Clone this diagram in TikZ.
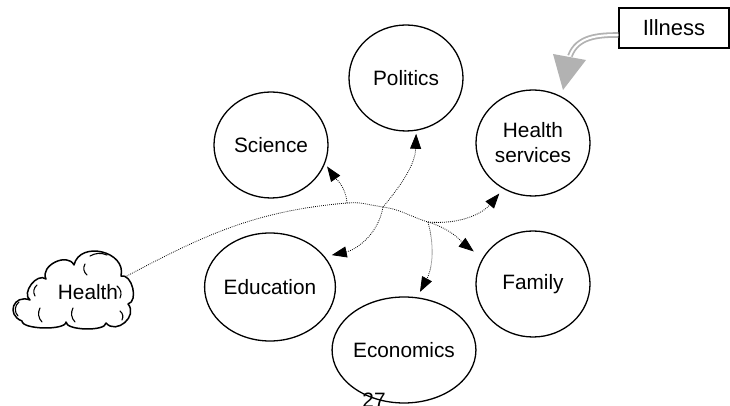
\documentclass[tikz,border=0pt]{standalone}
\usepackage{fontspec}
\setmainfont{Liberation Sans}
\usetikzlibrary{shapes.geometric,arrows.meta}
\begin{document}
\begin{tikzpicture}[x=1pt,y=1pt,
  topic/.style={draw, line width=1.3pt, ellipse, inner sep=0pt, minimum width=114pt, minimum height=106pt, font=\fontsize{20.8}{25}\selectfont, align=center},
  link/.style={line width=0.8pt, dash pattern=on 0.8pt off 1.2pt, -{Triangle[length=15pt,width=11pt]}},
  shaft/.style={draw=gray!60, line width=1.8pt, double=white, double distance=2pt},
  txt/.style={font=\fontsize{20.8}{25}\selectfont},
  puff/.style={line width=1.5pt, line cap=round, line join=round},
  curl/.style={line width=1.1pt, line cap=round}
]
\useasboundingbox (0,0) rectangle (730,406);
% page number partly visible
\node[txt, anchor=base] (pg) at (374,-2) {27};
% topics
\node[topic] (pol) at (406,328) {Politics};
\node[topic] (sci) at (271,261) {Science};
\node[topic] (hs) at (533,263) {Health\\services};
\node[topic, minimum width=106pt, minimum height=108pt] (edu) at (270,119) {Education};
\node[topic] (fam) at (533,122) {Family};
\node[topic, minimum width=112pt] (eco) at (404,56) {Economics};
% cloud outline
\coordinate (v1) at (22,85);
\coordinate (v2) at (30,106);
\coordinate (v3) at (46,127);
\coordinate (v4) at (74,141);
\coordinate (v5) at (121,130);
\coordinate (v6) at (128,102);
\coordinate (v7) at (106,83);
\coordinate (v8) at (66,84);
\draw[puff] (v1) to[bend left=90, looseness=2.0] (v2)
  to[bend left=90, looseness=1.1] (v3) to[bend left=90, looseness=1.2] (v4)
  to[bend left=90, looseness=1.35] (v5) to[bend left=90, looseness=1.0] (v6)
  to[bend left=90, looseness=1.4] (v7) to[bend left=90, looseness=0.55] (v8)
  to[bend left=90, looseness=0.5] (v1);
% inner curls of the cloud
\draw[curl] (19,104) to[bend right=50] (18,90);
\draw[curl] (37,121) to[bend right=40] (35,110);
\draw[curl] (85,142) to[bend right=40] (87,131);
\draw[curl] (90,150) to[bend left=25] (107,151);
\draw[curl] (117,120) to[bend left=40] (120,108);
\draw[curl] (120,95) to[bend left=40] (122,86);
\draw[curl] (73,98) to[bend right=35] (75,84);
\draw[curl] (40,98) to[bend right=35] (42,84);
\node[txt] (clt) at (88,114) {Health};
% illness box
\node[draw, line width=1.2pt, minimum width=110pt, minimum height=40pt, inner sep=0pt, font=\fontsize{22}{26}\selectfont] (ill) at (674,378) {Illness};
% junctions
\coordinate (cs) at (125,129);
\coordinate (j1) at (347,203);
\coordinate (j2) at (383,199);
\coordinate (j3) at (428,184);
% trunk
\draw[link, shorten >=11pt] (cs) to[out=28,in=185] (j1) to[out=5,in=172] (j2) to[out=-8,in=163] (j3) to[out=-17,in=142] (fam.153);
% branches
\draw[link, shorten >=3.5pt] (j1) to[out=95,in=-55] (sci.-19);
\draw[link, shorten >=3pt] (j2) to[out=50,in=-92] (pol.-79);
\draw[link, shorten >=7pt] (j2) to[out=-100,in=12] (edu.29);
\draw[link, shorten >=6pt] (j3) to[out=-5,in=-130] (hs.-123);
\draw[link, shorten >=6pt] (j3) to[out=-75,in=62] (eco.76);
% grey arrow from illness
\coordinate (ih) at (570,350);
\draw[shaft] ([yshift=-7pt]ill.west) to[out=180,in=70] (ih);
\fill[gray!60] (553,352) -- (586,346) -- (563,316) -- cycle;
\end{tikzpicture}
\end{document}
